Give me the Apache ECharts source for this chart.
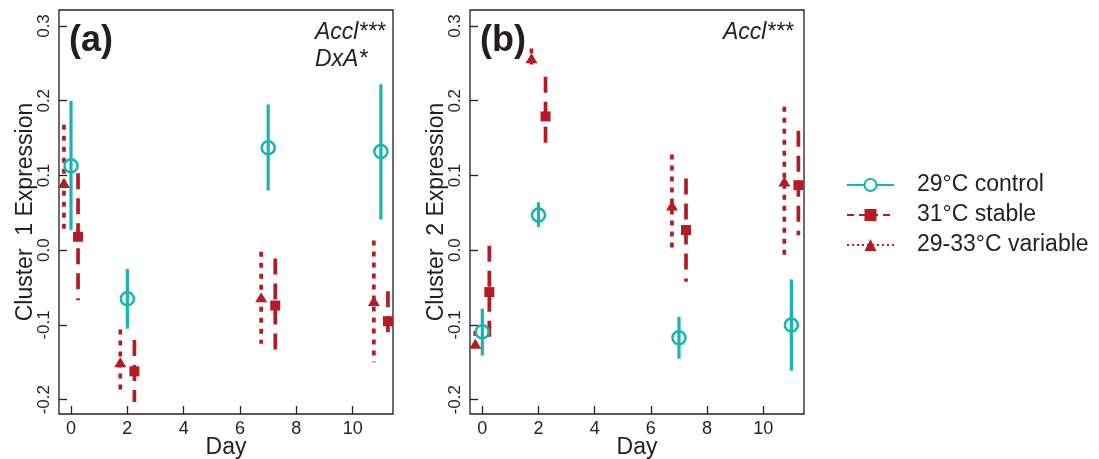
<!DOCTYPE html>
<html>
<head>
<meta charset="utf-8">
<script src="https://cdn.jsdelivr.net/npm/echarts@6/dist/echarts.min.js"></script>
<style>
  html, body { margin: 0; padding: 0; background: #ffffff; }
  #chart { width: 1099px; height: 459px; }
</style>
</head>
<body>
<div id="chart"></div>
<script>
// ---------------- data ----------------
const days = [0, 2, 7, 11];
const xTickValues = [0, 2, 4, 6, 8, 10];
const yTickValues = [-0.2, -0.1, 0.0, 0.1, 0.2, 0.3];
const groupNames = ['29°C control', '31°C stable', '29-33°C variable'];

// Panel (a): Cluster 1
const aControlMean = [0.113, -0.065, 0.137, 0.132];
const aControlLo   = [0.027, -0.105, 0.080, 0.041];
const aControlHi   = [0.200, -0.025, 0.195, 0.222];
const aStableMean  = [0.018, -0.162, -0.074, -0.095];
const aStableLo    = [-0.067, -0.203, -0.137, -0.117];
const aStableHi    = [0.103, -0.120, -0.011, -0.055];
const aVarMean     = [0.090, -0.150, -0.063, -0.068];
const aVarLo       = [0.023, -0.191, -0.125, -0.150];
const aVarHi       = [0.168, -0.106, -0.002, 0.013];

// Panel (b): Cluster 2
const bControlMean = [-0.109, 0.047, -0.117, -0.100];
const bControlLo   = [-0.141, 0.031, -0.145, -0.161];
const bControlHi   = [-0.078, 0.064, -0.089, -0.039];
const bStableMean  = [-0.056, 0.179, 0.027, 0.087];
const bStableLo    = [-0.118, 0.132, -0.042, 0.020];
const bStableHi    = [0.006, 0.232, 0.096, 0.160];
const bVarMean     = [-0.125, 0.257, 0.060, 0.092];
const bVarLo       = [-0.132, 0.243, 0.003, -0.008];
const bVarHi       = [-0.108, 0.270, 0.128, 0.192];

// ---------------- styling ----------------
const CYAN = '#18b4b4';
const RED = '#b31b25';
const INK = '#231f20';
const FONT = '"Liberation Sans", Arial, Helvetica, sans-serif';

const groups = [
  { key: 'control', dodge: 0,     color: CYAN, dash: null,   barWidth: 3.2,
    symbol: 'circle', size: 13, itemStyle: { color: 'rgba(0,0,0,0)', borderColor: CYAN, borderWidth: 2.5, opacity: 1 } },
  { key: 'stable',  dodge: 0.25,  color: RED,  dash: [16, 9], barWidth: 3.7,
    symbol: 'rect', size: 10, itemStyle: { color: RED, opacity: 1 } },
  { key: 'var',     dodge: -0.25, color: RED,  dash: [5, 6],  barWidth: 3.7,
    symbol: 'triangle', size: [12, 10], itemStyle: { color: RED, opacity: 1 } }
];

const panels = [
  { mean: [aControlMean, aStableMean, aVarMean], lo: [aControlLo, aStableLo, aVarLo], hi: [aControlHi, aStableHi, aVarHi] },
  { mean: [bControlMean, bStableMean, bVarMean], lo: [bControlLo, bStableLo, bVarLo], hi: [bControlHi, bStableHi, bVarHi] }
];

function makeErrorRender(g) {
  return function (params, api) {
    const x = api.value(0), lo = api.value(1), hi = api.value(2);
    const p1 = api.coord([x, hi]);
    const p2 = api.coord([x, lo]);
    return {
      type: 'line',
      shape: { x1: p1[0], y1: p1[1], x2: p2[0], y2: p2[1] },
      style: { stroke: g.color, lineWidth: g.barWidth, lineDash: g.dash, lineCap: 'butt', fill: null }
    };
  };
}

const series = [];
panels.forEach((p, pi) => {
  groups.forEach((g, gi) => {
    series.push({
      type: 'custom',
      name: 'err-' + pi + '-' + g.key,
      xAxisIndex: pi, yAxisIndex: pi,
      renderItem: makeErrorRender(g),
      data: days.map((d, i) => [d + g.dodge, p.lo[gi][i], p.hi[gi][i]]),
      z: 2, silent: true
    });
  });
  groups.forEach((g, gi) => {
    series.push({
      type: 'scatter',
      name: 'pt-' + pi + '-' + g.key,
      xAxisIndex: pi, yAxisIndex: pi,
      symbol: g.symbol, symbolSize: g.size,
      itemStyle: g.itemStyle,
      emphasis: { disabled: true },
      data: days.map((d, i) => [d + g.dodge, p.mean[gi][i]]),
      z: 3, silent: true
    });
  });
});

// Legend-only series (no data)
series.push(
  { type: 'line', name: groupNames[0], xAxisIndex: 0, yAxisIndex: 0, data: [],
    symbol: 'emptyCircle', itemStyle: { color: CYAN }, lineStyle: { color: CYAN, width: 1.5, type: 'solid' } },
  { type: 'line', name: groupNames[1], xAxisIndex: 0, yAxisIndex: 0, data: [],
    symbol: 'rect', itemStyle: { color: RED }, lineStyle: { color: RED, width: 1.5, type: [7, 5] } },
  { type: 'line', name: groupNames[2], xAxisIndex: 0, yAxisIndex: 0, data: [],
    symbol: 'triangle', itemStyle: { color: RED }, lineStyle: { color: RED, width: 1.5, type: [2, 3] } }
);

function xAxisCfg(gridIndex, min, max) {
  return {
    type: 'value', gridIndex, min, max, position: 'bottom',
    name: 'Day', nameLocation: 'middle', nameGap: 22, nameMoveOverlap: false,
    nameTextStyle: { fontSize: 23, color: INK, fontFamily: FONT },
    axisLine: { show: false, onZero: false },
    axisTick: { show: true, inside: true, length: 8, customValues: xTickValues, lineStyle: { color: INK, width: 1.3 } },
    axisLabel: { show: true, customValues: xTickValues, margin: 6, fontSize: 18, color: INK, fontFamily: FONT },
    splitLine: { show: false }
  };
}
function yAxisCfg(gridIndex, name) {
  return {
    type: 'value', gridIndex, min: -0.2191, max: 0.3214, position: 'left',
    name, nameLocation: 'middle', nameRotate: 90, nameGap: 22, nameMoveOverlap: false,
    nameTextStyle: { fontSize: 23, color: INK, fontFamily: FONT },
    axisLine: { show: false, onZero: false },
    axisTick: { show: true, inside: true, length: 8, customValues: yTickValues, lineStyle: { color: INK, width: 1.3 } },
    axisLabel: { show: true, customValues: yTickValues, rotate: 90, margin: 6, fontSize: 17, color: INK, fontFamily: FONT,
      formatter: v => v.toFixed(1) },
    splitLine: { show: false }
  };
}

const option = {
  animation: false,
  backgroundColor: '#ffffff',
  grid: [
    { left: 59, top: 10, width: 334, height: 404, outerBoundsMode: 'none', containLabel: false,
      show: true, borderColor: INK, borderWidth: 1.3, backgroundColor: 'transparent' },
    { left: 470, top: 10, width: 334, height: 404, outerBoundsMode: 'none', containLabel: false,
      show: true, borderColor: INK, borderWidth: 1.3, backgroundColor: 'transparent' }
  ],
  xAxis: [ xAxisCfg(0, -0.426, 11.43), xAxisCfg(1, -0.438, 11.45) ],
  yAxis: [ yAxisCfg(0, 'Cluster  1 Expression'), yAxisCfg(1, 'Cluster  2 Expression') ],
  legend: {
    data: groupNames,
    orient: 'vertical',
    left: 841, top: 168,
    itemWidth: 47, itemHeight: 15, itemGap: 6,
    selectedMode: false,
    textStyle: { fontSize: 23, color: INK, fontFamily: FONT, lineHeight: 24, padding: [0, 0, 0, 18] }
  },
  graphic: [
    { type: 'text', left: 69, top: 23, style: { text: '(a)', font: 'bold 36px ' + FONT, fill: INK } },
    { type: 'text', left: 480, top: 23, style: { text: '(b)', font: 'bold 36px ' + FONT, fill: INK } },
    { type: 'text', left: 315, top: 21, style: { text: 'Accl***', font: 'italic 23px ' + FONT, fill: INK } },
    { type: 'text', left: 315, top: 48, style: { text: 'DxA*', font: 'italic 23px ' + FONT, fill: INK } },
    { type: 'text', left: 723, top: 21, style: { text: 'Accl***', font: 'italic 23px ' + FONT, fill: INK } }
  ],
  series
};

const chart = echarts.init(document.getElementById('chart'), null, { renderer: 'canvas' });
chart.setOption(option);
</script>
</body>
</html>
